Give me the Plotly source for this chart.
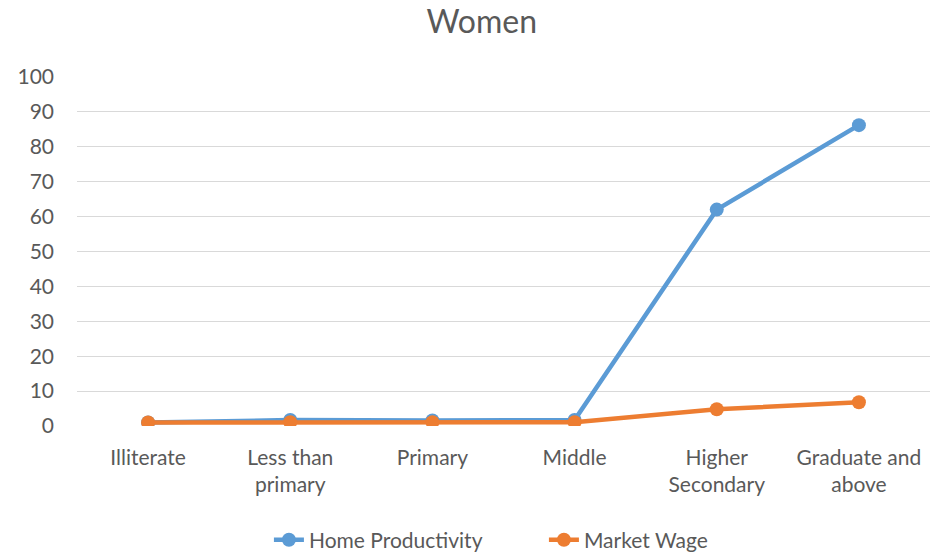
import plotly.graph_objects as go

categories = ["Illiterate", "Less than<br>primary", "Primary", "Middle",
              "Higher<br>Secondary", "Graduate and<br>above"]
home_productivity = [1.0, 1.7, 1.6, 1.7, 62.0, 86.2]
market_wage = [1.0, 1.1, 1.1, 1.1, 4.8, 6.8]
y_ticks = list(range(0, 101, 10))

FONT = "Lato"
TEXT = "#595959"

fig = go.Figure()
fig.add_trace(go.Scatter(
    x=categories, y=home_productivity, name="Home Productivity",
    mode="lines+markers",
    line=dict(color="#5b9bd5", width=4.5),
    marker=dict(size=14, color="#5b9bd5"),
))
fig.add_trace(go.Scatter(
    x=categories, y=market_wage, name="Market Wage",
    mode="lines+markers",
    line=dict(color="#ed7d31", width=4.5),
    marker=dict(size=14, color="#ed7d31"),
))

fig.update_layout(
    width=930, height=552,
    margin=dict(l=77, r=0, t=77, b=126, autoexpand=False),
    paper_bgcolor="white", plot_bgcolor="white",
    font=dict(family=FONT, size=21, color=TEXT),
    title=dict(text="Women", x=0.518, xref="container", xanchor="center",
               y=0.96, yref="container", yanchor="middle",
               font=dict(size=32, color=TEXT)),
    xaxis=dict(range=[-0.5, 5.5], showgrid=False, showline=False,
               zeroline=False, ticks="", ticklabelstandoff=17,
               automargin=False, tickfont=dict(size=21, color=TEXT)),
    yaxis=dict(range=[0, 100], tickvals=y_ticks, showgrid=True,
               gridcolor="#d9d9d9", gridwidth=1.3, zeroline=False,
               showline=False, ticks="", ticklabelstandoff=22,
               automargin=False, tickfont=dict(size=21, color=TEXT)),
    legend=dict(orientation="h", xref="paper", x=0.225, xanchor="left",
                yref="paper", y=-0.327, yanchor="middle",
                entrywidth=230, entrywidthmode="pixels",
                font=dict(size=21, color=TEXT)),
    showlegend=True,
)

fig.write_html("out.html")
